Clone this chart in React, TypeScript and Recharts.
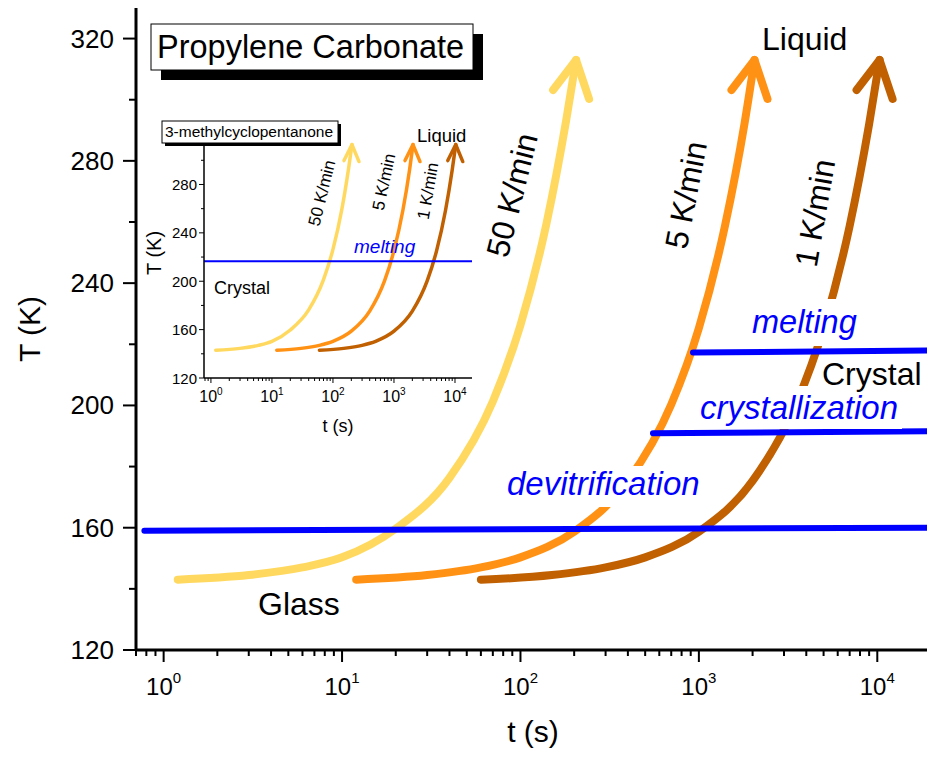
import React from "react";
import { LineChart, Line, XAxis, YAxis } from "recharts";

const FONT = '"Liberation Sans", Arial, Helvetica, sans-serif';

// heating curves, T (K) vs t (s)
const t50 = [1.2, 3, 6, 10, 20, 40, 70, 100, 140, 180, 205];
const T50 = [143, 144.5, 147, 150.3, 159.7, 176.3, 201.3, 226.3, 259.6, 292.9, 313];
const t5 = [12, 30, 60, 100, 200, 400, 700, 1000, 1400, 1800, 2050];
const T5 = [143, 144.5, 147, 150.3, 158.7, 175.3, 200.3, 225.3, 258.7, 292, 313];
const t1 = [60, 150, 300, 500, 1000, 2000, 3500, 5000, 7000, 9000, 10300];
const T1 = [143, 144.5, 147, 150.3, 158.7, 175.3, 200.3, 225.3, 258.7, 292, 313];

// transition lines (main plot)
const tDevit = [0.78, 20000];
const TDevit = [159.0, 160.0];
const tCryst = [553, 20000];
const TCryst = [190.9, 191.6];
const tMelt = [927, 20000];
const TMelt = [217.3, 218.0];

// inset melting line
const tMeltInset = [0.77, 19000];
const TMeltInset = [216.5, 216.5];

const xMajorTicks = [1, 10, 100, 1000, 10000];
const xMajorExp = ["0", "1", "2", "3", "4"];
const xMinorTicks = [
  0.7, 0.8, 0.9, 2, 3, 4, 5, 6, 7, 8, 9, 20, 30, 40, 50, 60, 70, 80, 90,
  200, 300, 400, 500, 600, 700, 800, 900, 2000, 3000, 4000, 5000, 6000, 7000, 8000, 9000,
];
const yMajorTicks = [120, 160, 200, 240, 280, 320];
const yMinorTicks = [140, 180, 220, 260, 300];
const insetYMajor = [120, 160, 200, 240, 280];
const insetYMinor = [140, 180, 220, 260, 300];

const C50 = "#FFD95F";
const C5 = "#FF9214";
const C1 = "#C06000";
const BLUE = "#0000FF";

const zip = (ts: number[], Ts: number[]) => ts.map((t, i) => ({ t, T: Ts[i] }));

const d50 = zip(t50, T50);
const d5 = zip(t5, T5);
const d1 = zip(t1, T1);
const dDevit = zip(tDevit, TDevit);
const dCryst = zip(tCryst, TCryst);
const dMelt = zip(tMelt, TMelt);
const dMeltInset = zip(tMeltInset, TMeltInset);

const allX = [...xMajorTicks, ...xMinorTicks].sort((a, b) => a - b);

function makeXTick(o: { major: number; minor: number; dy: number; fs: number; sup: number; supDy: number; sw: number }) {
  return (props: any) => {
    const { x, y, payload } = props;
    const idx = xMajorTicks.indexOf(payload.value);
    const major = idx >= 0;
    return (
      <g key={`xt-${payload.value}`}>
        <line x1={x} y1={y} x2={x} y2={y + (major ? o.major : o.minor)} stroke="#000" strokeWidth={o.sw} />
        {major && (
          <text x={x} y={y + o.dy} textAnchor="middle" fontSize={o.fs} fontFamily={FONT} fill="#000">
            10
            <tspan dy={o.supDy} fontSize={o.sup}>
              {xMajorExp[idx]}
            </tspan>
          </text>
        )}
      </g>
    );
  };
}

function makeYTick(o: { major: number; minor: number; gap: number; dy: number; fs: number; sw: number; labels: number[] }) {
  return (props: any) => {
    const { x, y, payload } = props;
    const major = o.labels.includes(payload.value);
    return (
      <g key={`yt-${payload.value}`}>
        <line x1={x - (major ? o.major : o.minor)} y1={y} x2={x} y2={y} stroke="#000" strokeWidth={o.sw} />
        {major && (
          <text x={x - o.major - o.gap} y={y + o.dy} textAnchor="end" fontSize={o.fs} fontFamily={FONT} fill="#000">
            {payload.value}
          </text>
        )}
      </g>
    );
  };
}

function makeArrow(n: number, color: string, w: number, l: [number, number], r: [number, number]) {
  return (props: any) => {
    const { cx, cy, index } = props;
    if (index !== n - 1) return <g key={`d-${index}`} />;
    return (
      <path
        key={`d-${index}`}
        d={`M${cx + l[0]},${cy + l[1]} L${cx},${cy} L${cx + r[0]},${cy + r[1]}`}
        fill="none"
        stroke={color}
        strokeWidth={w}
        strokeLinecap="round"
        strokeLinejoin="round"
      />
    );
  };
}

const mainXTick = makeXTick({ major: 12, minor: 6, dy: 45, fs: 24, sup: 15, supDy: -12, sw: 2 });
const mainYTick = makeYTick({ major: 13, minor: 7, gap: 9, dy: 9, fs: 26, sw: 2, labels: yMajorTicks });
const insetXTick = makeXTick({ major: 5, minor: 3, dy: 24, fs: 16, sup: 10, supDy: -7, sw: 1 });
const insetYTick = makeYTick({ major: 5, minor: 3, gap: 2, dy: 5.5, fs: 15, sw: 1, labels: insetYMajor });

function MainChart() {
  const heat = [
    { d: d50, c: C50 },
    { d: d5, c: C5 },
    { d: d1, c: C1 },
  ];
  return (
    <LineChart width={931} height={757} margin={{ top: 8, right: 0, bottom: 47, left: 76 }}>
      <XAxis
        xAxisId="x"
        dataKey="t"
        type="number"
        scale="log"
        domain={[0.7, 20000]}
        allowDataOverflow
        ticks={allX}
        interval={0}
        tickSize={0}
        tickMargin={0}
        tickLine={false}
        height={60}
        axisLine={{ stroke: "#000", strokeWidth: 3 }}
        tick={mainXTick}
      />
      <XAxis
        xAxisId="top"
        orientation="top"
        type="number"
        domain={[0, 1]}
        height={0}
        tick={false}
        tickLine={false}
        axisLine={{ stroke: "#000", strokeWidth: 3 }}
      />
      <YAxis
        yAxisId="y"
        type="number"
        domain={[120, 330]}
        allowDataOverflow
        ticks={[...yMajorTicks, ...yMinorTicks].sort((a, b) => a - b)}
        interval={0}
        tickSize={0}
        tickMargin={0}
        tickLine={false}
        width={60}
        axisLine={{ stroke: "#000", strokeWidth: 3 }}
        tick={mainYTick}
      />
      {heat.map((h, i) => (
        <Line
          key={`h${i}`}
          xAxisId="x"
          yAxisId="y"
          data={h.d}
          dataKey="T"
          type="monotone"
          stroke={h.c}
          strokeWidth={8}
          strokeLinecap="round"
          dot={makeArrow(h.d.length, h.c, 8, [-23, 30], [13, 39])}
          activeDot={false}
          isAnimationActive={false}
        />
      ))}
      {[dDevit, dCryst, dMelt].map((d, i) => (
        <Line
          key={`b${i}`}
          xAxisId="x"
          yAxisId="y"
          data={d}
          dataKey="T"
          type="linear"
          stroke={BLUE}
          strokeWidth={6}
          strokeLinecap="round"
          dot={false}
          activeDot={false}
          isAnimationActive={false}
        />
      ))}
    </LineChart>
  );
}

function InsetChart() {
  const heat = [
    { d: d50, c: C50 },
    { d: d5, c: C5 },
    { d: d1, c: C1 },
  ];
  return (
    <LineChart width={350} height={345} margin={{ top: 24, right: 8, bottom: 37, left: 34 }}>
      <XAxis
        xAxisId="x"
        dataKey="t"
        type="number"
        scale="log"
        domain={[0.77, 19000]}
        allowDataOverflow
        ticks={allX.filter((v) => v >= 0.77)}
        interval={0}
        tickSize={0}
        tickMargin={0}
        tickLine={false}
        height={30}
        axisLine={{ stroke: "#000", strokeWidth: 1.5 }}
        tick={insetXTick}
      />
      <XAxis
        xAxisId="top"
        orientation="top"
        type="number"
        domain={[0, 1]}
        height={0}
        tick={false}
        tickLine={false}
        axisLine={{ stroke: "#000", strokeWidth: 1 }}
      />
      <YAxis
        yAxisId="y"
        type="number"
        domain={[120, 330]}
        allowDataOverflow
        ticks={[...insetYMajor, ...insetYMinor].sort((a, b) => a - b)}
        interval={0}
        tickSize={0}
        tickMargin={0}
        tickLine={false}
        width={40}
        axisLine={{ stroke: "#000", strokeWidth: 1.5 }}
        tick={insetYTick}
      />
      <YAxis
        yAxisId="r"
        orientation="right"
        type="number"
        domain={[0, 1]}
        width={0}
        tick={false}
        tickLine={false}
        axisLine={{ stroke: "#000", strokeWidth: 1 }}
      />
      {heat.map((h, i) => (
        <Line
          key={`ih${i}`}
          xAxisId="x"
          yAxisId="y"
          data={h.d}
          dataKey="T"
          type="monotone"
          stroke={h.c}
          strokeWidth={3.5}
          strokeLinecap="round"
          dot={makeArrow(h.d.length, h.c, 3.5, [-8, 16], [7, 17])}
          activeDot={false}
          isAnimationActive={false}
        />
      ))}
      <Line
        xAxisId="x"
        yAxisId="y"
        data={dMeltInset}
        dataKey="T"
        type="linear"
        stroke={BLUE}
        strokeWidth={2}
        dot={false}
        activeDot={false}
        isAnimationActive={false}
      />
    </LineChart>
  );
}

function Overlay() {
  const txt = { fontFamily: FONT, fill: "#000" } as const;
  const blue = { fontFamily: FONT, fill: BLUE, fontStyle: "italic" } as const;
  return (
    <svg width={927} height={757} style={{ position: "absolute", left: 0, top: 0, pointerEvents: "none" }}>
      {/* main title */}
      <rect x={161} y={34} width={322} height={46} fill="#000" />
      <rect x={151} y={24} width={322} height={46} fill="#fff" stroke="#000" strokeWidth={1} />
      <text x={157} y={58} fontSize={32.5} {...txt}>Propylene Carbonate</text>

      {/* inset title */}
      <rect x={165} y={124} width={176} height={22} fill="#000" />
      <rect x={162} y={121} width={176} height={22} fill="#fff" stroke="#000" strokeWidth={1} />
      <text x={165} y={137} fontSize={15.5} {...txt}>3-methylcyclopentanone</text>

      {/* main labels */}
      <text x={762} y={50} fontSize={32} {...txt}>Liquid</text>
      <text x={258} y={615} fontSize={32} {...txt}>Glass</text>
      <rect x={503} y={466} width={202} height={41} fill="#fff" />
      <text x={507} y={495} fontSize={33} {...blue}>devitrification</text>
      <rect x={697} y={386} width={205} height={43} fill="#fff" />
      <text x={700} y={419} fontSize={33} {...blue}>crystallization</text>
      <rect x={749} y={299} width={112} height={47} fill="#fff" />
      <text x={752} y={333} fontSize={32.5} {...blue}>melting</text>
      <text x={822} y={385} fontSize={32} {...txt}>Crystal</text>
      <text transform="translate(512,195) rotate(-76)" textAnchor="middle" dominantBaseline="central" fontSize={32} {...txt}>50 K/min</text>
      <text transform="translate(686,195) rotate(-79)" textAnchor="middle" dominantBaseline="central" fontSize={32} {...txt}>5 K/min</text>
      <text transform="translate(815,213) rotate(-80)" textAnchor="middle" dominantBaseline="central" fontSize={32} {...txt}>1 K/min</text>

      {/* main axis titles */}
      <text transform="translate(29,329) rotate(-90)" textAnchor="middle" dominantBaseline="central" fontSize={30} {...txt}>T (K)</text>
      <text x={533} y={742} textAnchor="middle" fontSize={30} {...txt}>t (s)</text>

      {/* inset labels */}
      <text x={417} y={142} fontSize={18.5} {...txt}>Liquid</text>
      <text x={214} y={294} fontSize={18} {...txt}>Crystal</text>
      <text x={354} y={253} fontSize={19} {...blue}>melting</text>
      <text transform="translate(322,193) rotate(-76)" textAnchor="middle" dominantBaseline="central" fontSize={17} {...txt}>50 K/min</text>
      <text transform="translate(384,182) rotate(-78)" textAnchor="middle" dominantBaseline="central" fontSize={17} {...txt}>5 K/min</text>
      <text transform="translate(428,191) rotate(-80)" textAnchor="middle" dominantBaseline="central" fontSize={17} {...txt}>1 K/min</text>
      <text transform="translate(154,253) rotate(-90)" textAnchor="middle" dominantBaseline="central" fontSize={20} {...txt}>T (K)</text>
      <text x={338} y={432} textAnchor="middle" fontSize={18} {...txt}>t (s)</text>
    </svg>
  );
}

export default function App() {
  return (
    <div style={{ position: "absolute", left: 0, top: 0, width: 927, height: 757, overflow: "hidden", background: "#fff", fontFamily: FONT }}>
      <MainChart />
      <div style={{ position: "absolute", left: 130, top: 100 }}>
        <InsetChart />
      </div>
      <Overlay />
    </div>
  );
}
